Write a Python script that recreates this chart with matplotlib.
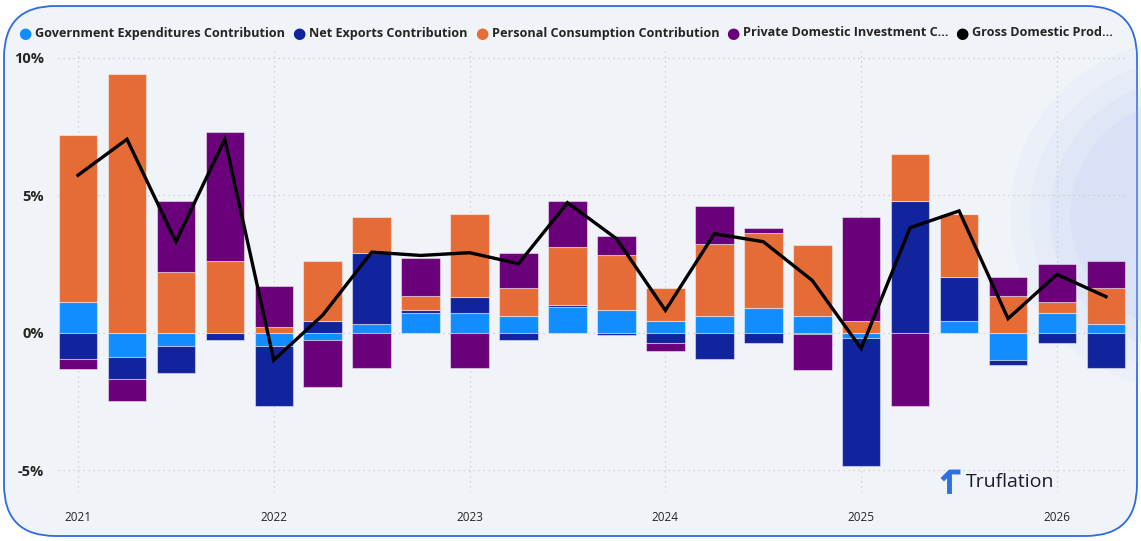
# GDP contributions by component, quarterly stacked bars + GDP line
import numpy as np
import matplotlib.pyplot as plt
from matplotlib.patches import FancyBboxPatch, Circle
from matplotlib.lines import Line2D

plt.rcParams['font.family'] = ['Open Sans', 'DejaVu Sans']

# quarters 2021 Q1 .. 2026 Q2
quarters = [2021 + i * 0.25 for i in range(22)]
years = [2021, 2022, 2023, 2024, 2025, 2026]
year_labels = ['2021', '2022', '2023', '2024', '2025', '2026']

gov = [1.10, -0.90, -0.49, 0.00, -0.49, -0.28, 0.33, 0.73, 0.73, 0.61, 0.92,
       0.81, 0.41, 0.62, 0.91, 0.61, -0.18, 0.00, 0.41, -0.98, 0.71, 0.31]
net_exports = [-0.97, -0.77, -0.98, -0.28, -2.18, 0.41, 2.58, 0.08, 0.58, -0.28, 0.08,
               -0.07, -0.38, -0.97, -0.38, -0.06, -4.69, 4.80, 1.60, -0.20, -0.38, -1.27]
consumption = [6.10, 9.41, 2.22, 2.62, 0.22, 2.21, 1.30, 0.51, 3.00, 1.00, 2.12,
               2.00, 1.20, 2.59, 2.70, 2.59, 0.41, 1.72, 2.30, 1.32, 0.40, 1.30]
investment = [-0.37, -0.80, 2.58, 4.68, 1.49, -1.70, -1.27, 1.38, -1.27, 1.29, 1.68,
              0.70, -0.30, 1.40, 0.20, -1.30, 3.80, -2.67, 0.00, 0.69, 1.40, 1.00]
gdp = [5.73, 7.04, 3.31, 7.04, -1.00, 0.64, 2.93, 2.81, 2.91, 2.51, 4.73,
       3.42, 0.81, 3.60, 3.31, 1.90, -0.58, 3.82, 4.43, 0.51, 2.12, 1.31]

names = ['Government Expenditures Contribution', 'Net Exports Contribution',
         'Personal Consumption Contribution', 'Private Domestic Investment C...',
         'Gross Domestic Prod...']
colors = ['#118DFF', '#12239E', '#E66C37', '#6B007B', '#000000']
bg = '#F0F4F9'

W, H = 1141, 541
fig = plt.figure(figsize=(W / 100, H / 100), dpi=100, facecolor='white')

def px(x, y):
    return x / W, 1 - y / H

# card background + border
card = FancyBboxPatch(px(4, 536), 1133 / W, 530 / H, boxstyle='round,pad=0,rounding_size=0.045',
                      transform=fig.transFigure, facecolor=bg, edgecolor='#2C6BE0',
                      linewidth=1.3, zorder=-10, mutation_aspect=W / H)
fig.patches.append(card)

# faint globe decoration on the right
for r, a in [(175, 0.07), (155, 0.09), (135, 0.11), (115, 0.13)]:
    c = Circle((1185, H - 215), r, transform=None, facecolor='#AFC3F2', edgecolor='none',
               alpha=a, zorder=-5)
    fig.patches.append(c)

ax = fig.add_axes([58 / W, 1 - 492 / H, (1126 - 58) / W, (492 - 48) / H])
ax.set_facecolor('none')
ax.set_zorder(1)

x = np.array(quarters)
series = [gov, net_exports, consumption, investment]
pos_base = np.zeros(len(x))
neg_base = np.zeros(len(x))
for vals, col in zip(series, colors[:4]):
    v = np.array(vals)
    base = np.where(v >= 0, pos_base, neg_base)
    ax.bar(x, v, width=0.197, bottom=base, color=col, edgecolor=(1, 1, 1, 0.45),
           linewidth=0.8, zorder=2)
    pos_base += np.where(v >= 0, v, 0)
    neg_base += np.where(v < 0, v, 0)

ax.plot(x, gdp, color='black', linewidth=2.4, zorder=3, solid_joinstyle='miter')

ax.set_xlim(2021 - 20 / 195.8, 2026 + 69 / 195.8)
ax.set_ylim(-5.80, 10.36)
ax.set_yticks([-5, 0, 5, 10])
ax.set_yticklabels(['-5%', '0%', '5%', '10%'], fontsize=10.5, fontweight='bold', color='#252423')
ax.set_xticks(years)
ax.set_xticklabels(year_labels, fontsize=8.5, color='#252423')
ax.tick_params(length=0)
ax.tick_params(axis='y', pad=10)
ax.tick_params(axis='x', pad=14)
ax.grid(True, linestyle=(0, (1, 3)), color='#C8C8C8', linewidth=0.9, zorder=0)
for s in ax.spines.values():
    s.set_visible(False)

# legend row
leg_x = [25, 299, 482, 733, 962]
for lx, name, col in zip(leg_x, names, colors):
    fig.text(*px(lx, 33), '\u25CF', color=col, fontsize=11, ha='center', va='center',
             family='DejaVu Sans')
    fig.text(*px(lx + 10, 33), name, color='#252423', fontsize=9.1, fontweight='bold',
             ha='left', va='center')

# watermark logo
fig.text(*px(966, 482), 'Truflation', fontsize=14, color='#1B1B2F', ha='left', va='center')
fig.lines.append(Line2D([px(944, 478)[0], px(950, 472)[0], px(958, 472)[0]],
                        [px(944, 478)[1], px(950, 472)[1], px(958, 472)[1]],
                        transform=fig.transFigure, color='#2F6FE4', linewidth=3.5))
fig.lines.append(Line2D([px(949, 475)[0], px(949, 491)[0]],
                        [px(949, 475)[1], px(949, 491)[1]],
                        transform=fig.transFigure, color='#2F6FE4', linewidth=3.5))

fig.savefig('out.png', dpi=100, facecolor='white')
